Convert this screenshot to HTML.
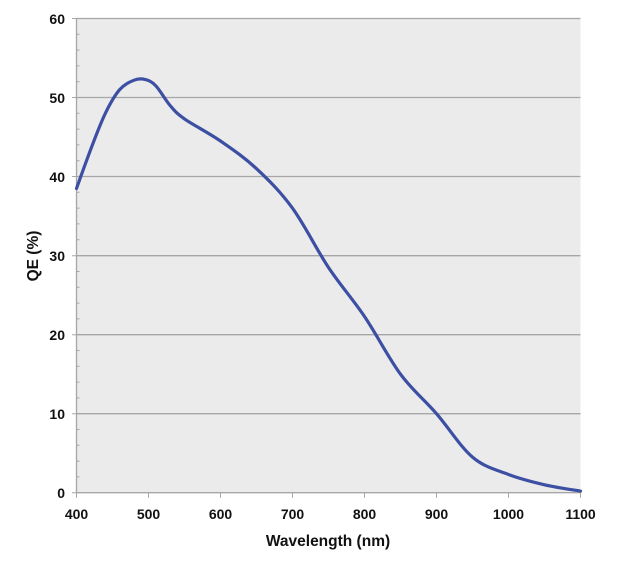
<!DOCTYPE html>
<html><head><meta charset="utf-8"><style>
html,body{margin:0;padding:0;background:#fff;}
svg{display:block;font-family:"Liberation Sans",Arial,sans-serif;font-weight:bold;}
</style></head><body>
<svg width="627" height="561" viewBox="0 0 627 561">
<rect x="76.5" y="18.5" width="504" height="474.2" fill="#ebebeb"/>
<g stroke="#a6a6a6" stroke-width="1.3">
<line x1="76.5" y1="18.5" x2="580.5" y2="18.5"/>
<line x1="76.5" y1="97.5" x2="580.5" y2="97.5"/>
<line x1="76.5" y1="176.5" x2="580.5" y2="176.5"/>
<line x1="76.5" y1="255.7" x2="580.5" y2="255.7"/>
<line x1="76.5" y1="334.7" x2="580.5" y2="334.7"/>
<line x1="76.5" y1="413.7" x2="580.5" y2="413.7"/>
<line x1="76.5" y1="492.7" x2="580.5" y2="492.7"/>
<line x1="76.5" y1="18.5" x2="76.5" y2="492.7"/>
</g>
<g stroke="#a6a6a6" stroke-width="1">
<path d="M72 18.5h4.5M72 97.5h4.5M72 176.5h4.5M72 255.7h4.5M72 334.7h4.5M72 413.7h4.5M72 492.7h4.5"/>
<path d="M76.5 34.3h3M76.5 50.1h3M76.5 65.9h3M76.5 81.7h3M76.5 113.3h3M76.5 129.1h3M76.5 144.9h3M76.5 160.7h3M76.5 192.3h3M76.5 208.1h3M76.5 223.9h3M76.5 239.7h3M76.5 271.5h3M76.5 287.3h3M76.5 303.1h3M76.5 318.9h3M76.5 350.5h3M76.5 366.3h3M76.5 382.1h3M76.5 397.9h3M76.5 429.5h3M76.5 445.3h3M76.5 461.1h3M76.5 476.9h3"/>
<path d="M76.5 492.7v5M148.5 492.7v5M220.5 492.7v5M292.5 492.7v5M364.5 492.7v5M436.5 492.7v5M508.5 492.7v5M580.5 492.7v5"/>
</g>
<g font-size="14" text-anchor="end" fill="#111">
<text x="65" y="24">60</text><text x="65" y="103">50</text><text x="65" y="182">40</text>
<text x="65" y="261">30</text><text x="65" y="340">20</text><text x="65" y="419">10</text><text x="65" y="498">0</text>
</g>
<g font-size="14" text-anchor="middle" fill="#111">
<text x="76.5" y="519">400</text><text x="148.5" y="519">500</text><text x="220.5" y="519">600</text>
<text x="292.5" y="519">700</text><text x="364.5" y="519">800</text><text x="436.5" y="519">900</text>
<text x="508.5" y="519">1000</text><text x="580.5" y="519">1100</text>
</g>
<text x="328" y="546" font-size="15.5" text-anchor="middle" fill="#111">Wavelength (nm)</text>
<text transform="translate(38,256) rotate(-90)" font-size="15.5" text-anchor="middle" fill="#111">QE (%)</text>
<path id="c" fill="none" stroke="#3c4fa3" stroke-width="3.2" stroke-linejoin="round" stroke-linecap="round" d=""/>
</svg>
<script>
var d=[[400,38.5],[420,43.5],[440,48],[460,51],[480,52.2],[495,52.3],[510,51.5],[530,49],[550,47.3],[600,44.5],[650,41],[700,36],[750,28.5],[800,22.3],[850,15],[900,10],[950,4.5],[1000,2.3],[1050,1],[1100,0.2]];
var p=d.map(function(a){return [76.5+(a[0]-400)*0.72,492.7-a[1]*7.903];});
var s="M"+p[0][0]+" "+p[0][1];
for(var i=0;i<p.length-1;i++){
 var p0=p[i-1]||p[i],p1=p[i],p2=p[i+1],p3=p[i+2]||p2;
 var c1=[p1[0]+(p2[0]-p0[0])/6,p1[1]+(p2[1]-p0[1])/6];
 var c2=[p2[0]-(p3[0]-p1[0])/6,p2[1]-(p3[1]-p1[1])/6];
 s+=" C"+c1[0].toFixed(1)+" "+c1[1].toFixed(1)+" "+c2[0].toFixed(1)+" "+c2[1].toFixed(1)+" "+p2[0].toFixed(1)+" "+p2[1].toFixed(1);
}
document.getElementById("c").setAttribute("d",s);
</script>
</body></html>
